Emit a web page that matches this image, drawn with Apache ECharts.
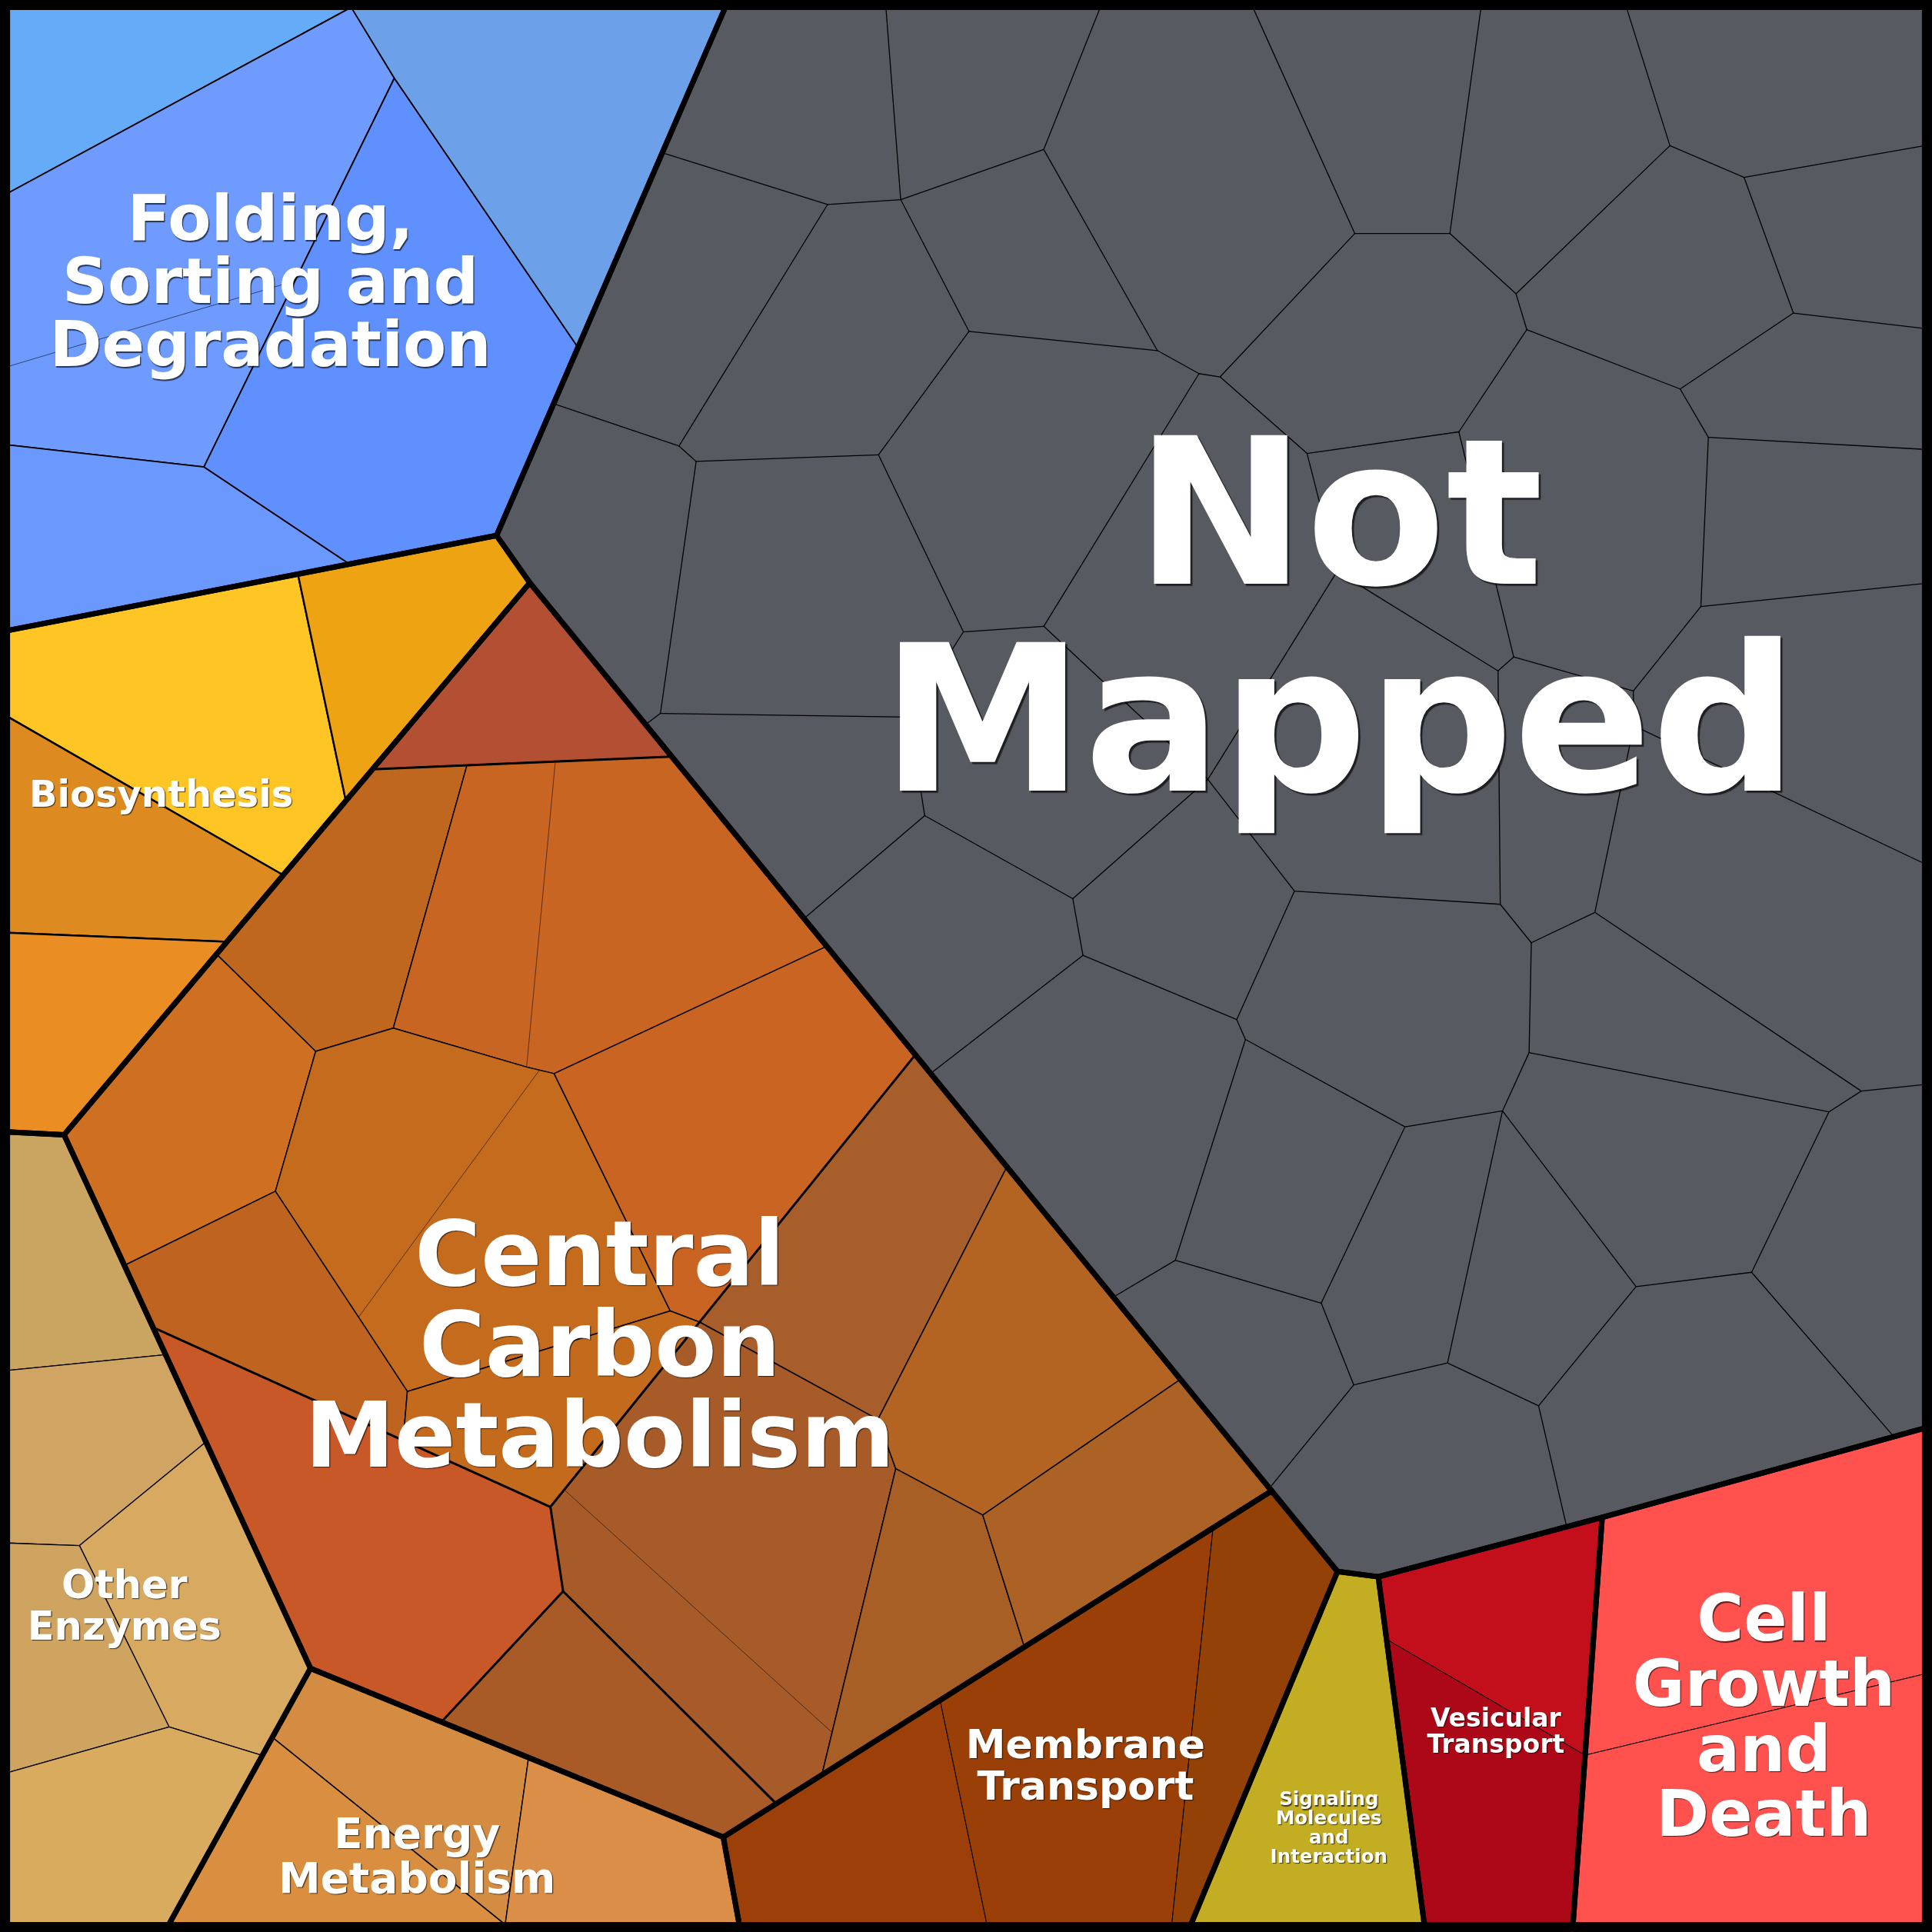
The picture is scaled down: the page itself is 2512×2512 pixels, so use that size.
<!DOCTYPE html>
<html>
<head>
<meta charset="utf-8">
<script src="https://cdn.jsdelivr.net/npm/echarts@6/dist/echarts.min.js"></script>
<style>
html,body{margin:0;padding:0;background:#000;}
#chart{width:2512px;height:2512px;}
</style>
</head>
<body>
<div id="chart"></div>
<script>
// ===================== DATA (layout units 0..1568) =====================
const regionNames = [
  'Folding, Sorting and Degradation', 'Biosynthesis', 'Central Carbon Metabolism',
  'Other Enzymes', 'Energy Metabolism', 'Membrane Transport',
  'Signaling Molecules and Interaction', 'Vesicular Transport', 'Cell Growth and Death', 'Not Mapped'
];

const regionOutlines = [
  [[6,6],[588.6,6],[403,434.6],[6,511.8]],
  [[6,511.8],[403,434.6],[430,473],[52,921],[6,918.7]],
  [[430,473],[1032,1210],[587,1491],[252,1354],[52,921]],
  [[6,918.7],[52,921],[252,1354],[137,1562],[6,1562]],
  [[252,1354],[587,1491],[600,1562],[137,1562]],
  [[587,1491],[1032,1210],[1085.5,1275.4],[966.5,1562],[600,1562]],
  [[1085.5,1275.4],[1118.6,1279.7],[1156,1562],[966.5,1562]],
  [[1118.6,1279.7],[1300.3,1231.5],[1276.6,1562],[1156,1562]],
  [[1300.3,1231.5],[1562,1159],[1562,1562],[1276.6,1562]],
  [[588.6,6],[1562,6],[1562,1159],[1300.3,1231.5],[1118.6,1279.7],[1085.5,1275.4],[430,473],[403,434.6]]
];

// cells: region index + outline
const cellRegion = [
  0,0,0,0,0,
  1,1,1,1,
  2,2,2,2,2,2,2,2,2,2,2,2,2,2,2,
  3,3,3,3,3,
  4,4,4,
  5,5,5,
  6,
  7,7,
  8,8,
  9
];
const cellOutlines = [
  // Folding, Sorting and Degradation
  [[6,6],[285,6],[6,157]],
  [[285,6],[588.6,6],[469,282],[320,63.5]],
  [[6,157],[285,6],[320,63.5],[165.5,379],[6,361]],
  [[320,63.5],[469,282],[403,434.6],[283.6,457.8],[165.5,379]],
  [[6,361],[165.5,379],[283.6,457.8],[6,511.8]],
  // Biosynthesis
  [[6,511.8],[241.8,465.9],[280.7,650],[229.5,710],[6,581.5]],
  [[241.8,465.9],[403,434.6],[430,473],[280.7,650]],
  [[6,581.5],[229.5,710],[184.3,764.3],[6,757]],
  [[6,757],[184.3,764.3],[52,921],[6,918.7]],
  // Central Carbon Metabolism
  [[430,473],[545.2,614],[450.7,618],[379,621],[302.3,624.3]],
  [[302.3,624.3],[379,621],[319.2,834.4],[256.2,853.3],[175.7,774.4]],
  [[379,621],[450.7,618],[545.2,614],[671,768],[449.7,871.3],[437.8,868.5],[427.4,866],[319.2,834.4]],
  [[175.7,774.4],[256.2,853.3],[223.5,966.8],[101,1027],[52,921]],
  [[256.2,853.3],[319.2,834.4],[427.4,866],[437.8,868.5],[449.7,871.3],[544,1064],[330.6,1129.3],[291,1069],[223.5,966.8]],
  [[449.7,871.3],[671,768],[742.9,856],[567.8,1073],[544,1064]],
  [[101,1027],[223.5,966.8],[291,1069],[330.6,1129.3],[327.2,1169],[124.2,1077.3]],
  [[124.2,1077.3],[327.2,1169],[446.7,1223],[457,1291.5],[358.3,1397.5],[252,1354]],
  [[330.6,1129.3],[544,1064],[567.8,1073],[446.7,1223],[327.2,1169]],
  [[567.8,1073],[742.9,856],[817.2,947],[712.5,1152]],
  [[446.7,1223],[567.8,1073],[712.5,1152],[727,1192],[667,1440.5],[630,1463.8],[457,1291.5]],
  [[457,1291.5],[630,1463.8],[587,1491],[358.3,1397.5]],
  [[712.5,1152],[817.2,947],[958.1,1119.5],[797.6,1229.6],[727,1192]],
  [[727,1192],[797.6,1229.6],[831.4,1336.7],[667,1440.5]],
  [[797.6,1229.6],[958.1,1119.5],[1032,1210],[831.4,1336.7]],
  // Other Enzymes
  [[6,918.7],[52,921],[101,1027],[124.2,1077.3],[134.4,1099.5],[6,1112.3]],
  [[6,1112.3],[134.4,1099.5],[167.2,1170.3],[64.5,1254.4],[6,1252.3]],
  [[167.2,1170.3],[252,1354],[212.7,1424.7],[137.3,1401.6],[64.5,1254.4]],
  [[6,1252.3],[64.5,1254.4],[137.3,1401.6],[6,1438.7]],
  [[6,1438.7],[137.3,1401.6],[212.7,1424.7],[137,1562],[6,1562]],
  // Energy Metabolism
  [[252,1354],[429,1426.4],[410,1562],[221,1410]],
  [[221,1410],[410,1562],[137,1562]],
  [[429,1426.4],[587,1491],[600,1562],[410,1562]],
  // Membrane Transport
  [[587,1491],[763,1379.9],[801,1562],[600,1562]],
  [[763,1379.9],[984.5,1240],[951,1562],[801,1562]],
  [[984.5,1240],[1032,1210],[1085.5,1275.4],[966.5,1562],[951,1562]],
  // Signaling Molecules and Interaction
  [[1085.5,1275.4],[1118.6,1279.7],[1156,1562],[966.5,1562]],
  // Vesicular Transport
  [[1118.6,1279.7],[1300.3,1231.5],[1286.4,1424.5],[1125.4,1330.5]],
  [[1125.4,1330.5],[1286.4,1424.5],[1276.6,1562],[1156,1562]],
  // Cell Growth and Death
  [[1300.3,1231.5],[1562,1159],[1562,1358.6],[1286.4,1424.5]],
  [[1286.4,1424.5],[1562,1358.6],[1562,1562],[1276.6,1562]],
  // Not Mapped (cells drawn by the junction/edge lists below)
  [[588.6,6],[1562,6],[1562,1159],[1300.3,1231.5],[1118.6,1279.7],[1085.5,1275.4],[430,473],[403,434.6]]
];

// Not Mapped Voronoi junctions
const nmNodes = {
  b1:[537.5,124], b2:[449.3,327.7], b3:[524,588], b4:[652.6,745.5], b5:[755.3,871.2],
  b6:[903.6,1052.7], b7:[1030.3,1207.8], b8:[1271.5,1239.1], b9:[1537,1165.9],
  t1:[719,6], t2:[893,6], t3:[1016.8,6], t4:[1202,6], t5:[1320,6],
  r1:[1562,118.2], r2:[1562,266.6], r3:[1562,364.7], r4:[1562,473.6], r5:[1562,701], r6:[1562,880.2],
  v1:[671.7,165.9], v2:[731,162], v3:[847.1,121.3], v4:[786.4,268.9], v5:[939.3,284.5],
  v6:[973.1,303.2], v7:[990.2,305.9], v8:[1099.5,189.5], v9:[1176.7,189.5], v10:[1230.4,238.5],
  v11:[1355.3,118.2], v12:[1415.5,144], v13:[1455.5,254.1], v14:[1239.1,267.5], v15:[1363.6,315.7],
  v16:[1386.5,354.9], v17:[1380.4,492.3], v18:[1184,350.5], v19:[1060.8,368], v20:[1085.2,463.7],
  v21:[551.1,362], v22:[565,374.5], v23:[713,369.2], v24:[781.9,512.8], v25:[847.1,508.3],
  v26:[536,579], v27:[738,582], v28:[750.5,662], v29:[870.7,729.4], v30:[980.3,632.5],
  v31:[1050.6,723.2], v32:[878.9,775.4], v33:[1003.7,827.5], v34:[1010.8,843.6], v35:[953.9,1022.8],
  v36:[1072.3,1057.6], v37:[1140.3,914.5], v38:[1219.4,901.6], v39:[1241,854.3], v40:[1242.8,765.1],
  v41:[1217.6,733.9], v42:[1215.8,544.5], v43:[1228.5,533.2], v44:[1325.6,560.8], v45:[1326,589],
  v46:[1294.4,740.5], v47:[1510.6,885.5], v48:[1484.3,902.4], v49:[1421.6,1032.6], v50:[1327.8,1044.2],
  v51:[1248.7,1141], v52:[1174.8,1106.2], v53:[1098.7,1124]
};
const nmEdges = [
  ['b1','v1'],['v1','v2'],['v2','t1'],['v2','v3'],['v3','t2'],['v2','v4'],['v3','v5'],['v4','v5'],
  ['v5','v6'],['v6','v7'],['v7','v8'],['v8','t3'],['v8','v9'],['v9','t4'],['v9','v10'],['v10','v11'],
  ['v11','t5'],['v11','v12'],['v12','r1'],['v12','v13'],['v13','r2'],['v13','v15'],['v10','v14'],
  ['v14','v15'],['v14','v18'],['v15','v16'],['v16','r3'],['v16','v17'],['v17','r4'],['v17','v44'],
  ['v44','v43'],['v43','v18'],['v43','v42'],['v42','v20'],['v20','v19'],['v19','v7'],['v19','v18'],
  ['v20','v30'],['v1','v21'],['v21','b2'],['v21','v22'],['v22','v23'],['v23','v4'],['v22','v26'],
  ['v26','b3'],['v26','v27'],['v23','v24'],['v24','v25'],['v24','v27'],['v25','v6'],['v25','v30'],
  ['v27','v28'],['v28','b4'],['v28','v29'],['v29','v30'],['v29','v32'],['v30','v31'],['v31','v41'],
  ['v31','v33'],['v32','v33'],['v32','b5'],['v33','v34'],['v34','v37'],['v34','v35'],['v35','b6'],
  ['v35','v36'],['v36','v37'],['v36','v53'],['v53','b7'],['v53','v52'],['v37','v38'],['v38','v39'],
  ['v38','v52'],['v38','v50'],['v39','v40'],['v39','v48'],['v40','v41'],['v40','v46'],['v41','v42'],
  ['v44','v45'],['v45','v46'],['v45','r5'],['v46','v47'],['v47','r6'],['v47','v48'],['v48','v49'],
  ['v49','v50'],['v49','b9'],['v50','v51'],['v51','v52'],['v51','b8']
];

// faint sub-cell divisions and sub-group divisions
const faintLines = [
  [[6,297.6],[239.3,228]],
  [[450.7,618],[427.4,866]],
  [[437.8,868.5],[291,1069]],
  [[457.9,1209],[675.3,1406]]
];
const groupLines = [
  [[302.3,624.3],[545.2,614]],
  [[742.9,856],[446.7,1223]],
  [[124.2,1077.3],[446.7,1223]],
  [[446.7,1223],[457,1291.5]],
  [[457,1291.5],[358.3,1397.5]],
  [[457,1291.5],[630,1463.8]]
];

const labelTexts = [
  'Folding,\nSorting and\nDegradation', 'Biosynthesis', 'Central\nCarbon\nMetabolism',
  'Other\nEnzymes', 'Energy\nMetabolism', 'Membrane\nTransport',
  'Signaling\nMolecules\nand\nInteraction', 'Vesicular\nTransport', 'Cell\nGrowth\nand\nDeath', 'Not\nMapped'
];

// ===================== LAYOUT / STYLE =====================
const labelAnchors = [
  [219.5,228.6],[130.8,644.2],[486.8,1091.3],[101,1303],[338.4,1506],
  [881,1432.7],[1078.5,1483.3],[1214,1404.8],[1431.5,1393],[1087,500.7]
];
const labelFontPx = [82, 48, 117, 51, 55, 52, 24.5, 33, 83, 265];
const labelLinePx = [82, 48, 118, 53.5, 58, 54, 24.9, 34, 84.6, 269];

const cellColors = [
  '#66abf7','#6ca0e8','#6e9bfd','#6090fd','#6b98fc',
  '#ffc524','#eea312','#dd8a20','#ea8e23',
  '#b35033','#c0671f','#c96522','#cf6f22','#c56b1e','#c96423','#bf6420','#c85828','#c46a1d',
  '#a85e2b','#a75b29','#a85a27','#b36422','#a85f26','#ad6225',
  '#caa561','#d0a462','#d7a961','#cfa360','#d8ab5e',
  '#d38c42','#d98f3f','#da8e48',
  '#9c3f08','#9a3f07','#934107',
  '#c2ad23',
  '#c20f1b','#ad0818',
  '#ff524e','#ff524e',
  '#575b61'
];
const regionCellBorder = [1.8, 2.4, 1.5, 1.3, 1.4, 1.0, 1.0, 1.0, 1.0, 0];

const chart = echarts.init(document.getElementById('chart'), null, {renderer: 'canvas', width: 2512, height: 2512});

function px(api, p) { return api.coord(p); }

const option = {
  backgroundColor: '#000',
  animation: false,
  grid: {left: 0, right: 0, top: 0, bottom: 0},
  xAxis: {type: 'value', min: 0, max: 1568, show: false},
  yAxis: {type: 'value', min: 0, max: 1568, inverse: true, show: false},
  series: [
    {
      type: 'custom', name: 'cells', coordinateSystem: 'cartesian2d', silent: true, clip: false,
      data: cellOutlines.map((pts, i) => [pts[0][0], pts[0][1], i]),
      renderItem: function (params, api) {
        const i = params.dataIndex;
        const bw = regionCellBorder[cellRegion[i]];
        return {
          type: 'polygon',
          shape: {points: cellOutlines[i].map(p => px(api, p))},
          style: {fill: cellColors[i], stroke: bw > 0 ? '#000' : null, lineWidth: bw, lineJoin: 'round'}
        };
      }
    },
    {
      type: 'custom', name: 'notMappedEdges', coordinateSystem: 'cartesian2d', silent: true, clip: false,
      data: nmEdges.map((e, i) => [nmNodes[e[0]][0], nmNodes[e[0]][1], i]),
      renderItem: function (params, api) {
        const e = nmEdges[params.dataIndex];
        const a = px(api, nmNodes[e[0]]), b = px(api, nmNodes[e[1]]);
        return {type: 'line', shape: {x1: a[0], y1: a[1], x2: b[0], y2: b[1]},
                style: {stroke: '#000', lineWidth: 1.3, lineCap: 'round'}};
      }
    },
    {
      type: 'custom', name: 'faint', coordinateSystem: 'cartesian2d', silent: true, clip: false,
      data: faintLines.map((l, i) => [l[0][0], l[0][1], i]),
      renderItem: function (params, api) {
        const l = faintLines[params.dataIndex];
        const a = px(api, l[0]), b = px(api, l[1]);
        return {type: 'line', shape: {x1: a[0], y1: a[1], x2: b[0], y2: b[1]},
                style: {stroke: 'rgba(0,0,0,0.55)', lineWidth: 1}};
      }
    },
    {
      type: 'custom', name: 'groups', coordinateSystem: 'cartesian2d', silent: true, clip: false,
      data: groupLines.map((l, i) => [l[0][0], l[0][1], i]),
      renderItem: function (params, api) {
        const l = groupLines[params.dataIndex];
        const a = px(api, l[0]), b = px(api, l[1]);
        return {type: 'line', shape: {x1: a[0], y1: a[1], x2: b[0], y2: b[1]},
                style: {stroke: '#000', lineWidth: 3, lineCap: 'round'}};
      }
    },
    {
      type: 'custom', name: 'regions', coordinateSystem: 'cartesian2d', silent: true, clip: false,
      data: regionOutlines.map((pts, i) => [pts[0][0], pts[0][1], i]),
      renderItem: function (params, api) {
        return {
          type: 'polygon',
          shape: {points: regionOutlines[params.dataIndex].map(p => px(api, p))},
          style: {fill: null, stroke: '#000', lineWidth: 7, lineJoin: 'round'}
        };
      }
    },
    {
      type: 'custom', name: 'labels', coordinateSystem: 'cartesian2d', silent: true, clip: false,
      data: labelAnchors.map((p, i) => [p[0], p[1], i]),
      renderItem: function (params, api) {
        const i = params.dataIndex;
        const c = api.coord([api.value(0), api.value(1)]);
        const fs = labelFontPx[i];
        const off = Math.max(1.2, fs * 0.01);
        return {
          type: 'text',
          style: {
            text: labelTexts[i], x: c[0], y: c[1] + fs * 0.085,
            fill: '#ffffff',
            fontFamily: '"DejaVu Sans", sans-serif', fontWeight: 'bold', fontSize: fs,
            lineHeight: labelLinePx[i],
            align: 'center', verticalAlign: 'middle',
            textShadowColor: 'rgba(0,0,0,0.65)', textShadowBlur: 1,
            textShadowOffsetX: off, textShadowOffsetY: off
          }
        };
      }
    }
  ]
};
chart.setOption(option);
</script>
</body>
</html>
